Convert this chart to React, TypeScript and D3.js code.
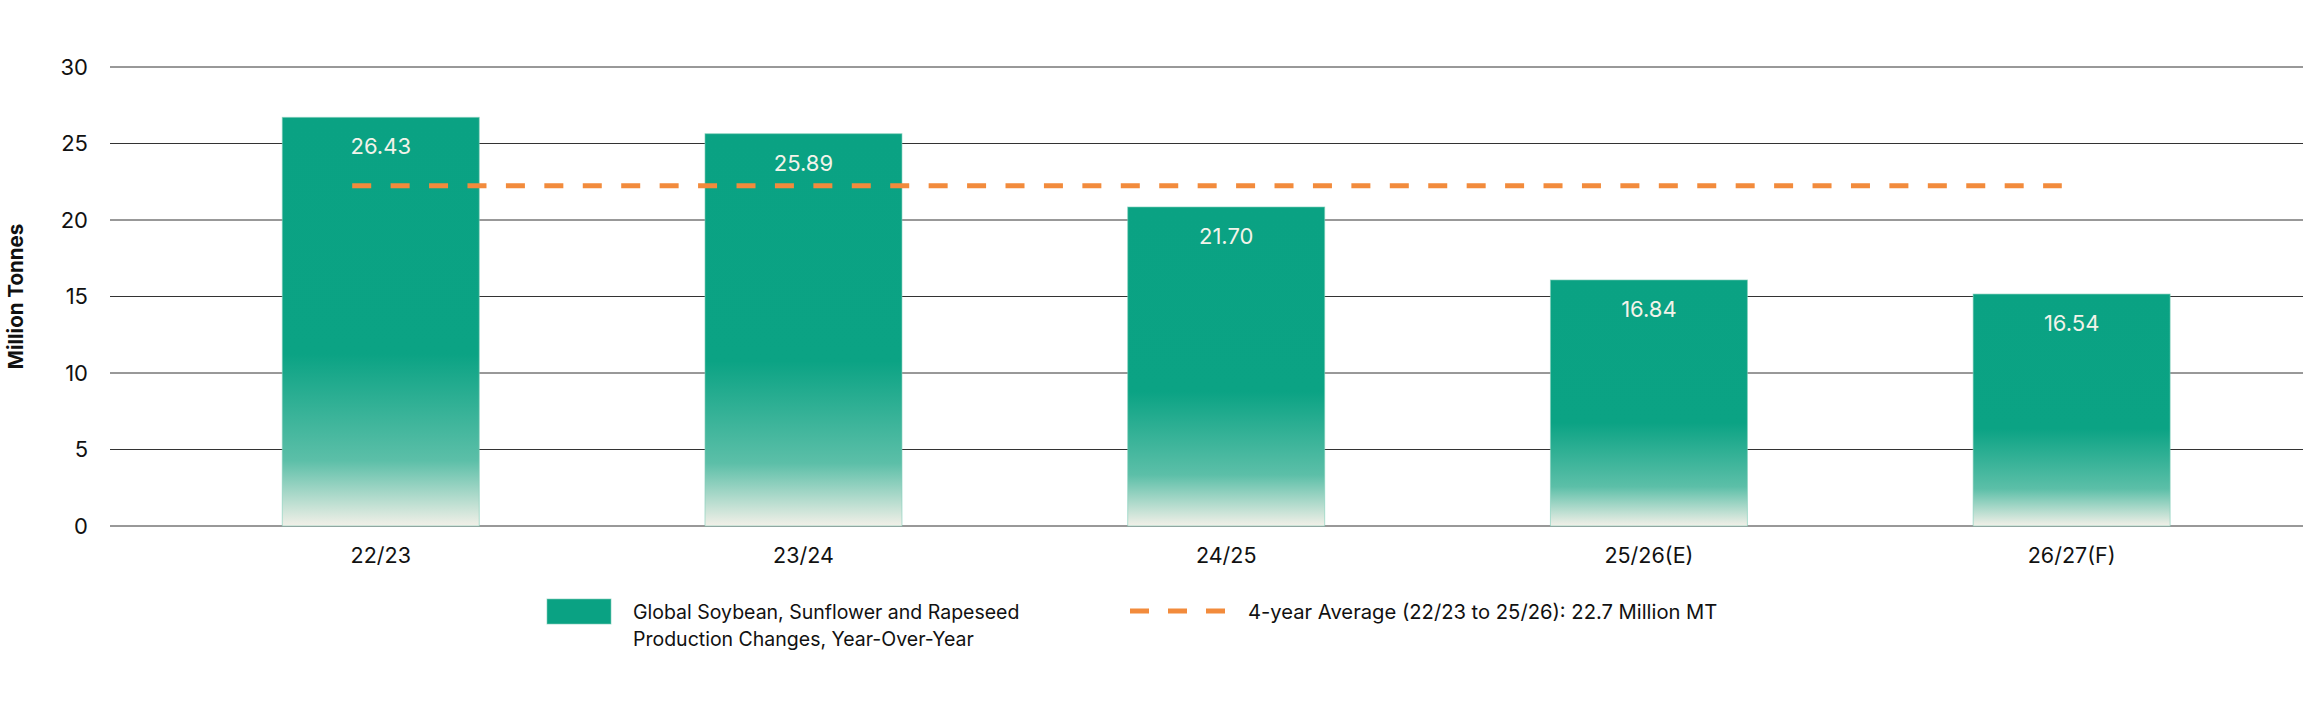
import React from "react";
import * as d3 from "d3";

// Seasons on the x axis
const seasons = ["22/23", "23/24", "24/25", "25/26(E)", "26/27(F)"];
// Bar heights as drawn in the chart (Million Tonnes)
const barHeights = [26.71, 25.64, 20.85, 16.08, 15.16];
// Value labels printed inside the bars
const barLabels = [26.43, 25.89, 21.7, 16.84, 16.54];
// 4-year average line as drawn
const averageDrawn = 22.24;
const yTicks = [0, 5, 10, 15, 20, 25, 30];

const legendBar = ["Global Soybean, Sunflower and Rapeseed", "Production Changes, Year-Over-Year"];
const legendLine = "4-year Average (22/23 to 25/26): 22.7 Million MT";

const W = 2307;
const H = 721;
const FONT = "Inter, 'Liberation Sans', Arial, sans-serif";
const GREEN = "#0aa283";
const ORANGE = "#f28b3c";

const App = () => {
  const plot = { left: 110, right: 2303, top: 67, bottom: 526 };

  const y = d3.scaleLinear().domain([0, 30]).range([plot.bottom, plot.top]);
  const x = d3
    .scaleBand<string>()
    .domain(seasons)
    .range([169.4, 2283])
    .paddingInner(0.534)
    .paddingOuter(0.267);
  const bw = x.bandwidth();

  const avgX0 = (x(seasons[0]) as number) + bw * 0.355;
  const avgX1 = (x(seasons[seasons.length - 1]) as number) + bw * 0.45;

  return (
    <svg
      width={W}
      height={H}
      viewBox={`0 0 ${W} ${H}`}
      style={{ position: "absolute", left: 0, top: 0, background: "#fff" }}
      fontFamily={FONT}
    >
      <defs>
        <linearGradient id="barFade" x1="0" y1="0" x2="0" y2="1">
          <stop offset="0%" stopColor={GREEN} />
          <stop offset="58%" stopColor="#0ba384" />
          <stop offset="84%" stopColor="#5cbfa8" />
          <stop offset="100%" stopColor="#f2f0e8" />
        </linearGradient>
      </defs>

      {/* grid + y ticks */}
      {yTicks.map(t => (
        <g key={t}>
          <line
            x1={plot.left}
            x2={plot.right}
            y1={y(t)}
            y2={y(t)}
            stroke="#333"
            strokeWidth={1}
          />
          <text
            x={88}
            y={y(t)}
            dy="0.36em"
            textAnchor="end"
            fontSize={22}
            fill="#111"
          >
            {t}
          </text>
        </g>
      ))}

      {/* bars */}
      {seasons.map((s, i) => (
        <g key={s}>
          <rect
            x={x(s)}
            y={y(barHeights[i])}
            width={bw}
            height={y(0) - y(barHeights[i])}
            fill="url(#barFade)"
            stroke="#7fcdb8"
            strokeOpacity={0.6}
            strokeWidth={1}
          />
          <text
            x={(x(s) as number) + bw / 2}
            y={y(barHeights[i]) + 37}
            textAnchor="middle"
            fontSize={22}
            fill="#f3f3ea"
          >
            {barLabels[i].toFixed(2)}
          </text>
          <text
            x={(x(s) as number) + bw / 2}
            y={563}
            textAnchor="middle"
            fontSize={21.5}
            fill="#111"
          >
            {s}
          </text>
        </g>
      ))}

      {/* average line */}
      <line
        x1={avgX0}
        x2={avgX1}
        y1={y(averageDrawn)}
        y2={y(averageDrawn)}
        stroke={ORANGE}
        strokeWidth={5}
        strokeDasharray="19 19.43"
      />

      {/* y axis title */}
      <text
        transform={`translate(15, ${(plot.top + plot.bottom) / 2}) rotate(-90)`}
        textAnchor="middle"
        dominantBaseline="central"
        fontSize={20.5}
        fontWeight="bold"
        fill="#111"
      >
        Million Tonnes
      </text>

      {/* legend */}
      <rect x={547} y={599} width={64} height={25} fill={GREEN} stroke="#7fcdb8" strokeOpacity={0.6} />
      {legendBar.map((l, i) => (
        <text key={l} x={633} y={619 + i * 27} fontSize={19.5} fill="#111">
          {l}
        </text>
      ))}
      <line
        x1={1130}
        x2={1226}
        y1={611}
        y2={611}
        stroke={ORANGE}
        strokeWidth={5}
        strokeDasharray="19 19"
      />
      <text x={1248} y={619} fontSize={20.2} fill="#111">
        {legendLine}
      </text>
    </svg>
  );
};

export default App;
